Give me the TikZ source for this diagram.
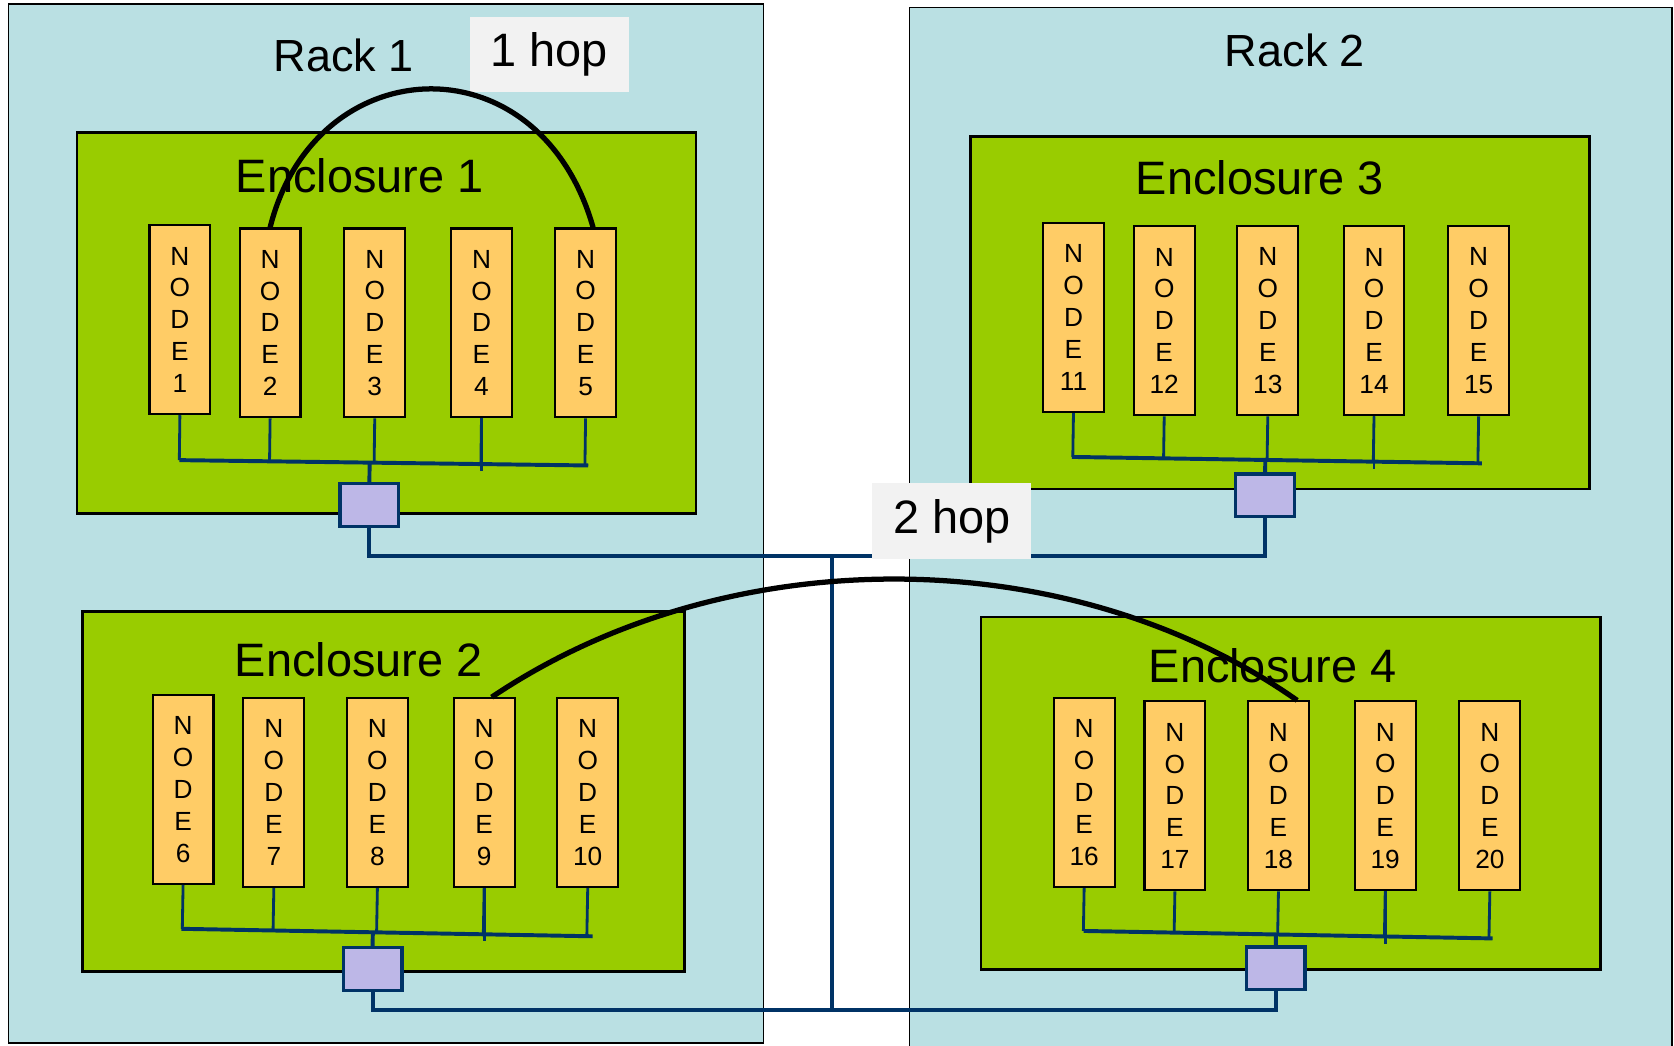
\documentclass[tikz,border=0pt]{standalone}
\usepackage{fontspec}
\setmainfont{Liberation Sans}
\usetikzlibrary{calc}
\definecolor{rackfill}{RGB}{186,224,227}
\definecolor{encfill}{RGB}{153,204,0}
\definecolor{nodefill}{RGB}{255,204,102}
\definecolor{swfill}{RGB}{189,183,231}
\definecolor{netblue}{RGB}{0,51,102}
\definecolor{hopfill}{RGB}{242,242,242}
\tikzset{
  rackbox/.style={draw=black, line width=0.9pt, fill=rackfill},
  encbox/.style={draw=black, line width=1.4pt, fill=encfill},
  title/.style={font=\fontsize{25}{30}\selectfont, anchor=base, inner sep=0pt},
  racktitle/.style={font=\fontsize{24}{29}\selectfont, anchor=base, inner sep=0pt},
  srv/.style={draw=black, line width=1.1pt, fill=nodefill, inner sep=0pt,
    minimum width=1.14cm, minimum height=3.54cm, align=center,
    font=\fontsize{14}{17}\selectfont},
  switchbox/.style={draw=netblue, line width=1.8pt, fill=swfill, inner sep=0pt,
    minimum width=1.1cm, minimum height=0.8cm},
  stem/.style={draw=netblue, line width=1.5pt},
  net/.style={draw=netblue, line width=2.1pt},
  hopbox/.style={fill=hopfill, inner sep=0pt, minimum width=2.98cm, minimum height=1.42cm,
    font=\fontsize{25}{30}\selectfont},
  hop/.style={draw=black, line width=2.8pt}
}
\begin{document}
\begin{tikzpicture}[x=0.02cm, y=-0.02cm]
\useasboundingbox (0,0) rectangle (1568,979);
\begin{scope}
\clip (0,0) rectangle (1568,979);
\fill[white] (0,0) rectangle (1568,979);

% racks
\path[rackbox] (8,4) rectangle (715,977);
\path[rackbox] (852,7) rectangle (1566,995);
\node[racktitle] (rack1) at (322,67) {Rack 1};
\node[racktitle] (rack2) at (1213,62) {Rack 2};

% enclosures
\path[encbox] (72,124) rectangle (652,481);
\path[encbox] (77,573) rectangle (641,910);
\path[encbox] (909,128) rectangle (1489,458);
\path[encbox] (919,578) rectangle (1499,908);
\node[title] (enc1) at (337,180) {Enclosure 1};
\node[title] (enc2) at (336,634) {Enclosure 2};
\node[title] (enc3) at (1180,182) {Enclosure 3};
\node[title] (enc4) at (1192,639) {Enclosure 4};

% compute nodes
\foreach \i/\x/\y in {1/168.5/299.5, 2/253/302.5, 3/351/302.5, 4/451/302.5, 5/548.5/302.5,
                      6/171.5/739.5, 7/256.5/742.5, 8/353.5/742.5, 9/453.5/742.5, 10/550.5/742.5,
                      11/1005.5/297.5, 12/1090.5/300.5, 13/1187.5/300.5, 14/1287/300.5, 15/1385/300.5,
                      16/1015.5/742.5, 17/1100.5/745.5, 18/1197.5/745.5, 19/1297.5/745.5, 20/1395.5/745.5}
  \node[srv] (n\i) at (\x,\y) {N\\O\\D\\E\\\i};

% switches
\node[switchbox] (sw1) at (346,473) {};
\node[switchbox] (sw2) at (349,907.5) {};
\node[switchbox] (sw3) at (1185,464) {};
\node[switchbox] (sw4) at (1195,907) {};

% enclosure buses (ends of each bus line)
\coordinate (b1L) at (168,431);  \coordinate (b1R) at (551,436);
\coordinate (b2L) at (170,870);  \coordinate (b2R) at (555,877);
\coordinate (b3L) at (1004,428); \coordinate (b3R) at (1388,434);
\coordinate (b4L) at (1015,872); \coordinate (b4R) at (1398,879);
\foreach \b/\a/\c in {1/1/5, 2/6/10, 3/11/15, 4/16/20}{
  \foreach \k in {\a,...,\c}
    \draw[stem] (n\k.south) -- ($(b\b L)!(n\k.south)!(b\b R)$);
  \draw[net] (b\b L) -- (b\b R);
  \draw[net] (sw\b.north) -- ($(b\b L)!(sw\b.north)!(b\b R)$);
}
% stems that run a little past their bus
\foreach \k in {4,9,14,19}
  \draw[stem] (n\k.south) -- ($(n\k.south)+(0,49)$);

% links between the enclosure switches
\coordinate (linkT) at (0,521);
\coordinate (linkB) at (0,946);
\coordinate (trunkT) at (779,521);
\coordinate (trunkB) at (779,948);
\draw[net] (sw1.south) -- (sw1.south |- linkT) -- (sw3.south |- linkT) -- (sw3.south);
\draw[net] (sw2.south) -- (sw2.south |- linkB) -- (sw4.south |- linkB) -- (sw4.south);
\draw[net] (trunkT) -- (trunkB);

% hop labels
\node[hopbox] (hop1) at (514.5,51) {1 hop};
\node[hopbox] (hop2) at (891.5,488) {2 hop};

% hop paths
\draw[hop] (n2.north) .. controls (295,45) and (505,35) .. ([xshift=4]n5.north);
\draw[hop] ([xshift=4]n9.north) .. controls (680,505) and (1000,505) .. ([xshift=10]n18.north);
\end{scope}
\end{tikzpicture}
\end{document}
